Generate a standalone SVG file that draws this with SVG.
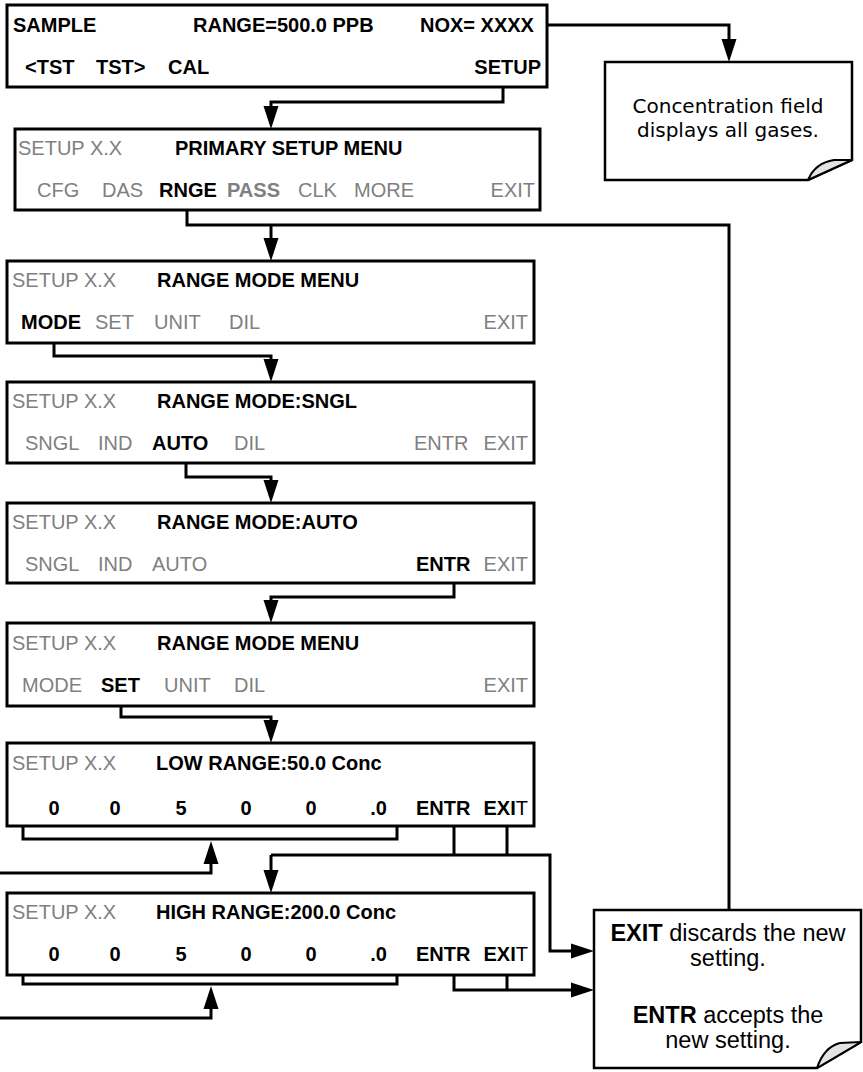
<svg xmlns="http://www.w3.org/2000/svg" width="863" height="1072" viewBox="0 0 863 1072">
<style>
.box{fill:#fff;stroke:#000;stroke-width:3}
.note{fill:#fff;stroke:#000;stroke-width:2.5;stroke-linejoin:miter}
.curl{fill:#e3e3e3;stroke:#000;stroke-width:2;stroke-linejoin:round}
.t{font-family:"Liberation Sans",Arial,sans-serif;font-size:20px;fill:#808080}
.b{font-weight:bold;fill:#000}
.gb{font-weight:bold;fill:#808080}
.w{stroke:#000;stroke-width:3;fill:none;stroke-linejoin:miter}
.a{marker-end:url(#ah)}
.n1{font-family:"DejaVu Sans",Verdana,sans-serif;font-size:20px;fill:#000}
.n2{font-family:"Liberation Sans",Arial,sans-serif;font-size:23.5px;fill:#000}
</style>
<defs>
<marker id="ah" markerUnits="userSpaceOnUse" markerWidth="24" markerHeight="16" refX="0" refY="7.5" orient="auto" viewBox="0 0 24 15">
<path d="M0,0 L23,7.5 L0,15 Z" fill="#000"/>
</marker>
</defs>

<g id="connectors">
<path class="w a" d="M547,25 H729 V39"/>
<path class="w a" d="M503,80 V102 H271 V106"/>
<path class="w" d="M187,201 V225 H729 V910"/>
<path class="w a" d="M271,225 V238"/>
<path class="w a" d="M54,334 V356 H271 V359"/>
<path class="w a" d="M186,455 V477 H271 V480"/>
<path class="w a" d="M454,576 V597 H271 V600"/>
<path class="w a" d="M121,696 V717 H271 V720"/>
<path class="w" d="M23,807 V839 H397 V807"/>
<path class="w a" d="M0,873 H211 V864"/>
<path class="w" d="M454,826 V855 M507,826 V855"/>
<path class="w a" d="M271,855 H550 V951 H571"/>
<path class="w a" d="M271,855 V870"/>
<path class="w" d="M23,950 V984 H397 V950"/>
<path class="w a" d="M0,1018 H211 V1009"/>
<path class="w" d="M507,966 V990"/>
<path class="w a" d="M454,966 V990 H571"/>
</g>

<g id="sample">
<rect class="box" x="7" y="5" width="540" height="82"/>
<text class="t b" x="13" y="32">SAMPLE</text>
<text class="t b" x="193" y="32">RANGE=500.0 PPB</text>
<text class="t b" x="420" y="32">NOX= XXXX</text>
<text class="t b" x="25" y="74">&lt;TST</text>
<text class="t b" x="96" y="74">TST&gt;</text>
<text class="t b" x="168" y="74">CAL</text>
<text class="t b" x="541" y="74" text-anchor="end">SETUP</text>
</g>

<g id="note-conc">
<path class="note" d="M605,62 H852 V160 L808,180 H605 Z"/>
<path class="curl" d="M808,180 Q815,163 834,160 L852,160 Z"/>
<text class="n1" x="728" y="113" text-anchor="middle">Concentration field</text>
<text class="n1" x="728" y="137" text-anchor="middle">displays all gases.</text>
</g>

<g id="primary-setup">
<rect class="box" x="15" y="129" width="525" height="81"/>
<text class="t" x="18" y="155">SETUP X.X</text>
<text class="t b" x="175" y="155">PRIMARY SETUP MENU</text>
<text class="t" x="37" y="197">CFG</text>
<text class="t" x="102" y="197">DAS</text>
<text class="t b" x="159" y="197">RNGE</text>
<text class="t gb" x="227" y="197">PASS</text>
<text class="t" x="298" y="197">CLK</text>
<text class="t" x="354" y="197">MORE</text>
<text class="t" x="535" y="197" text-anchor="end">EXIT</text>
</g>

<g id="range-mode-menu-1">
<rect class="box" x="7" y="261" width="527" height="82"/>
<text class="t" x="12" y="287">SETUP X.X</text>
<text class="t b" x="157" y="287">RANGE MODE MENU</text>
<text class="t b" x="21" y="329">MODE</text>
<text class="t" x="95" y="329">SET</text>
<text class="t" x="154" y="329">UNIT</text>
<text class="t" x="229" y="329">DIL</text>
<text class="t" x="528" y="329" text-anchor="end">EXIT</text>
</g>

<g id="range-mode-sngl">
<rect class="box" x="7" y="382" width="527" height="81"/>
<text class="t" x="12" y="408">SETUP X.X</text>
<text class="t b" x="157" y="408">RANGE MODE:SNGL</text>
<text class="t" x="25" y="450">SNGL</text>
<text class="t" x="98" y="450">IND</text>
<text class="t b" x="152" y="450">AUTO</text>
<text class="t" x="234" y="450">DIL</text>
<text class="t" x="414" y="450">ENTR</text>
<text class="t" x="528" y="450" text-anchor="end">EXIT</text>
</g>

<g id="range-mode-auto">
<rect class="box" x="7" y="503" width="527" height="80"/>
<text class="t" x="12" y="529">SETUP X.X</text>
<text class="t b" x="157" y="529">RANGE MODE:AUTO</text>
<text class="t" x="25" y="571">SNGL</text>
<text class="t" x="98" y="571">IND</text>
<text class="t" x="152" y="571">AUTO</text>
<text class="t b" x="416" y="571">ENTR</text>
<text class="t" x="528" y="571" text-anchor="end">EXIT</text>
</g>

<g id="range-mode-menu-2">
<rect class="box" x="7" y="623" width="527" height="83"/>
<text class="t" x="12" y="650">SETUP X.X</text>
<text class="t b" x="157" y="650">RANGE MODE MENU</text>
<text class="t" x="22" y="692">MODE</text>
<text class="t b" x="101" y="692">SET</text>
<text class="t" x="164" y="692">UNIT</text>
<text class="t" x="234" y="692">DIL</text>
<text class="t" x="528" y="692" text-anchor="end">EXIT</text>
</g>

<g id="low-range">
<rect class="box" x="7" y="743" width="527" height="83"/>
<text class="t" x="12" y="770">SETUP X.X</text>
<text class="t b" x="156" y="770">LOW RANGE:50.0 Conc</text>
<text class="t b" x="54" y="815" text-anchor="middle">0</text>
<text class="t b" x="115" y="815" text-anchor="middle">0</text>
<text class="t b" x="181" y="815" text-anchor="middle">5</text>
<text class="t b" x="246" y="815" text-anchor="middle">0</text>
<text class="t b" x="311" y="815" text-anchor="middle">0</text>
<text class="t b" x="387" y="815" text-anchor="end">.0</text>
<text class="t b" x="416" y="815">ENTR</text>
<text class="t b" x="528" y="815" text-anchor="end">EXI<tspan font-weight="normal">T</tspan></text>
</g>

<g id="high-range">
<rect class="box" x="7" y="893" width="527" height="82"/>
<text class="t" x="12" y="919">SETUP X.X</text>
<text class="t b" x="156" y="919">HIGH RANGE:200.0 Conc</text>
<text class="t b" x="54" y="961" text-anchor="middle">0</text>
<text class="t b" x="115" y="961" text-anchor="middle">0</text>
<text class="t b" x="181" y="961" text-anchor="middle">5</text>
<text class="t b" x="246" y="961" text-anchor="middle">0</text>
<text class="t b" x="311" y="961" text-anchor="middle">0</text>
<text class="t b" x="387" y="961" text-anchor="end">.0</text>
<text class="t b" x="416" y="961">ENTR</text>
<text class="t b" x="528" y="961" text-anchor="end">EXI<tspan font-weight="normal">T</tspan></text>
</g>

<g id="note-exit-entr">
<path class="note" d="M594,910 H861 V1042 L817,1068 H594 Z"/>
<path class="curl" d="M817,1068 Q824,1047 840,1043 L861,1042 Z"/>
<text class="n2" x="728" y="941" text-anchor="middle"><tspan font-weight="bold">EXIT</tspan> discards the new</text>
<text class="n2" x="728" y="966" text-anchor="middle">setting.</text>
<text class="n2" x="728" y="1023" text-anchor="middle"><tspan font-weight="bold">ENTR</tspan> accepts the</text>
<text class="n2" x="728" y="1048" text-anchor="middle">new setting.</text>
</g>
</svg>
